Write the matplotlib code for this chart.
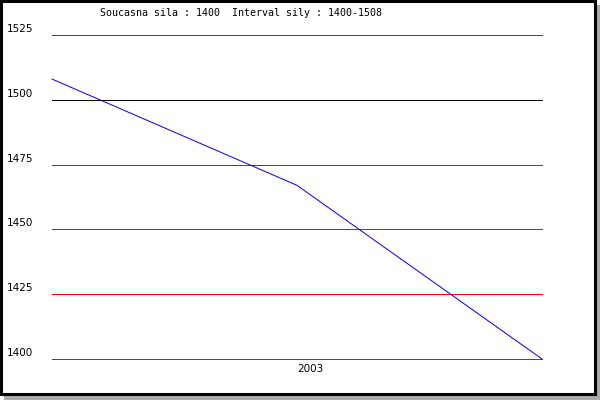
import matplotlib
matplotlib.use("Agg")
import matplotlib.pyplot as plt
from matplotlib.patches import Rectangle
from matplotlib.transforms import offset_copy

# data
years = ["2003"]
sila = [1508, 1467, 1400]          # values along the line
grid_vals = [1400, 1425, 1450, 1475, 1500, 1525]
grid_cols = ["red", "red", "red", "red", "black", "red"]
title_txt = "Soucasna sila : 1400  Interval sily : 1400-1508"

W, H = 600, 400
fig = plt.figure(figsize=(W / 100, H / 100), dpi=100)
fig.patch.set_facecolor("white")

# frame with grey drop shadow
fig.patches.append(Rectangle((4 / W, 0), 596 / W, 395 / H, transform=fig.transFigure,
                             facecolor="#aaaaaa", edgecolor="none", zorder=-2))
fig.patches.append(Rectangle((1 / W, 6 / H), 594 / W, 393 / H, transform=fig.transFigure,
                             facecolor="white", edgecolor="black", linewidth=2.2, zorder=-1))

# plot area: x 52..542 px, y 35..359 px
ax = fig.add_axes([52 / W, (H - 359) / H, 490 / W, 324 / H])
ax.set_zorder(2)
ax.set_facecolor("none")
ax.set_xlim(0, len(sila) - 1)
ax.set_ylim(1400, 1525)
for s in ax.spines.values():
    s.set_visible(False)
ax.set_xticks([])
ax.set_yticks([])

for v, c in zip(grid_vals, grid_cols):
    ax.axhline(v, color=c, linewidth=0.72, clip_on=False, antialiased=False)

ax.plot(range(len(sila)), sila, color="blue", linewidth=0.72, clip_on=False)

# y labels, left aligned at x=7 px and a bit above the lines
lab_tr = offset_copy(ax.get_yaxis_transform(), fig=fig, x=0, y=6, units="dots")
for v in grid_vals:
    ax.text((7 - 52) / 490, v, str(v), transform=lab_tr, ha="left", va="center",
            fontsize=7.5, family="DejaVu Sans", color="black")

# x label, starts at the middle point
xl_tr = offset_copy(ax.get_xaxis_transform(), fig=fig, x=0, y=-10, units="dots")
ax.text(1, 0, years[0], transform=xl_tr, ha="left", va="center",
        fontsize=7.5, family="DejaVu Sans", color="black")

fig.text(100 / W, 1 - 13 / H, title_txt, ha="left", va="center",
         fontsize=7.2, family="DejaVu Sans Mono", color="black")

fig.savefig("out.png", dpi=100)
